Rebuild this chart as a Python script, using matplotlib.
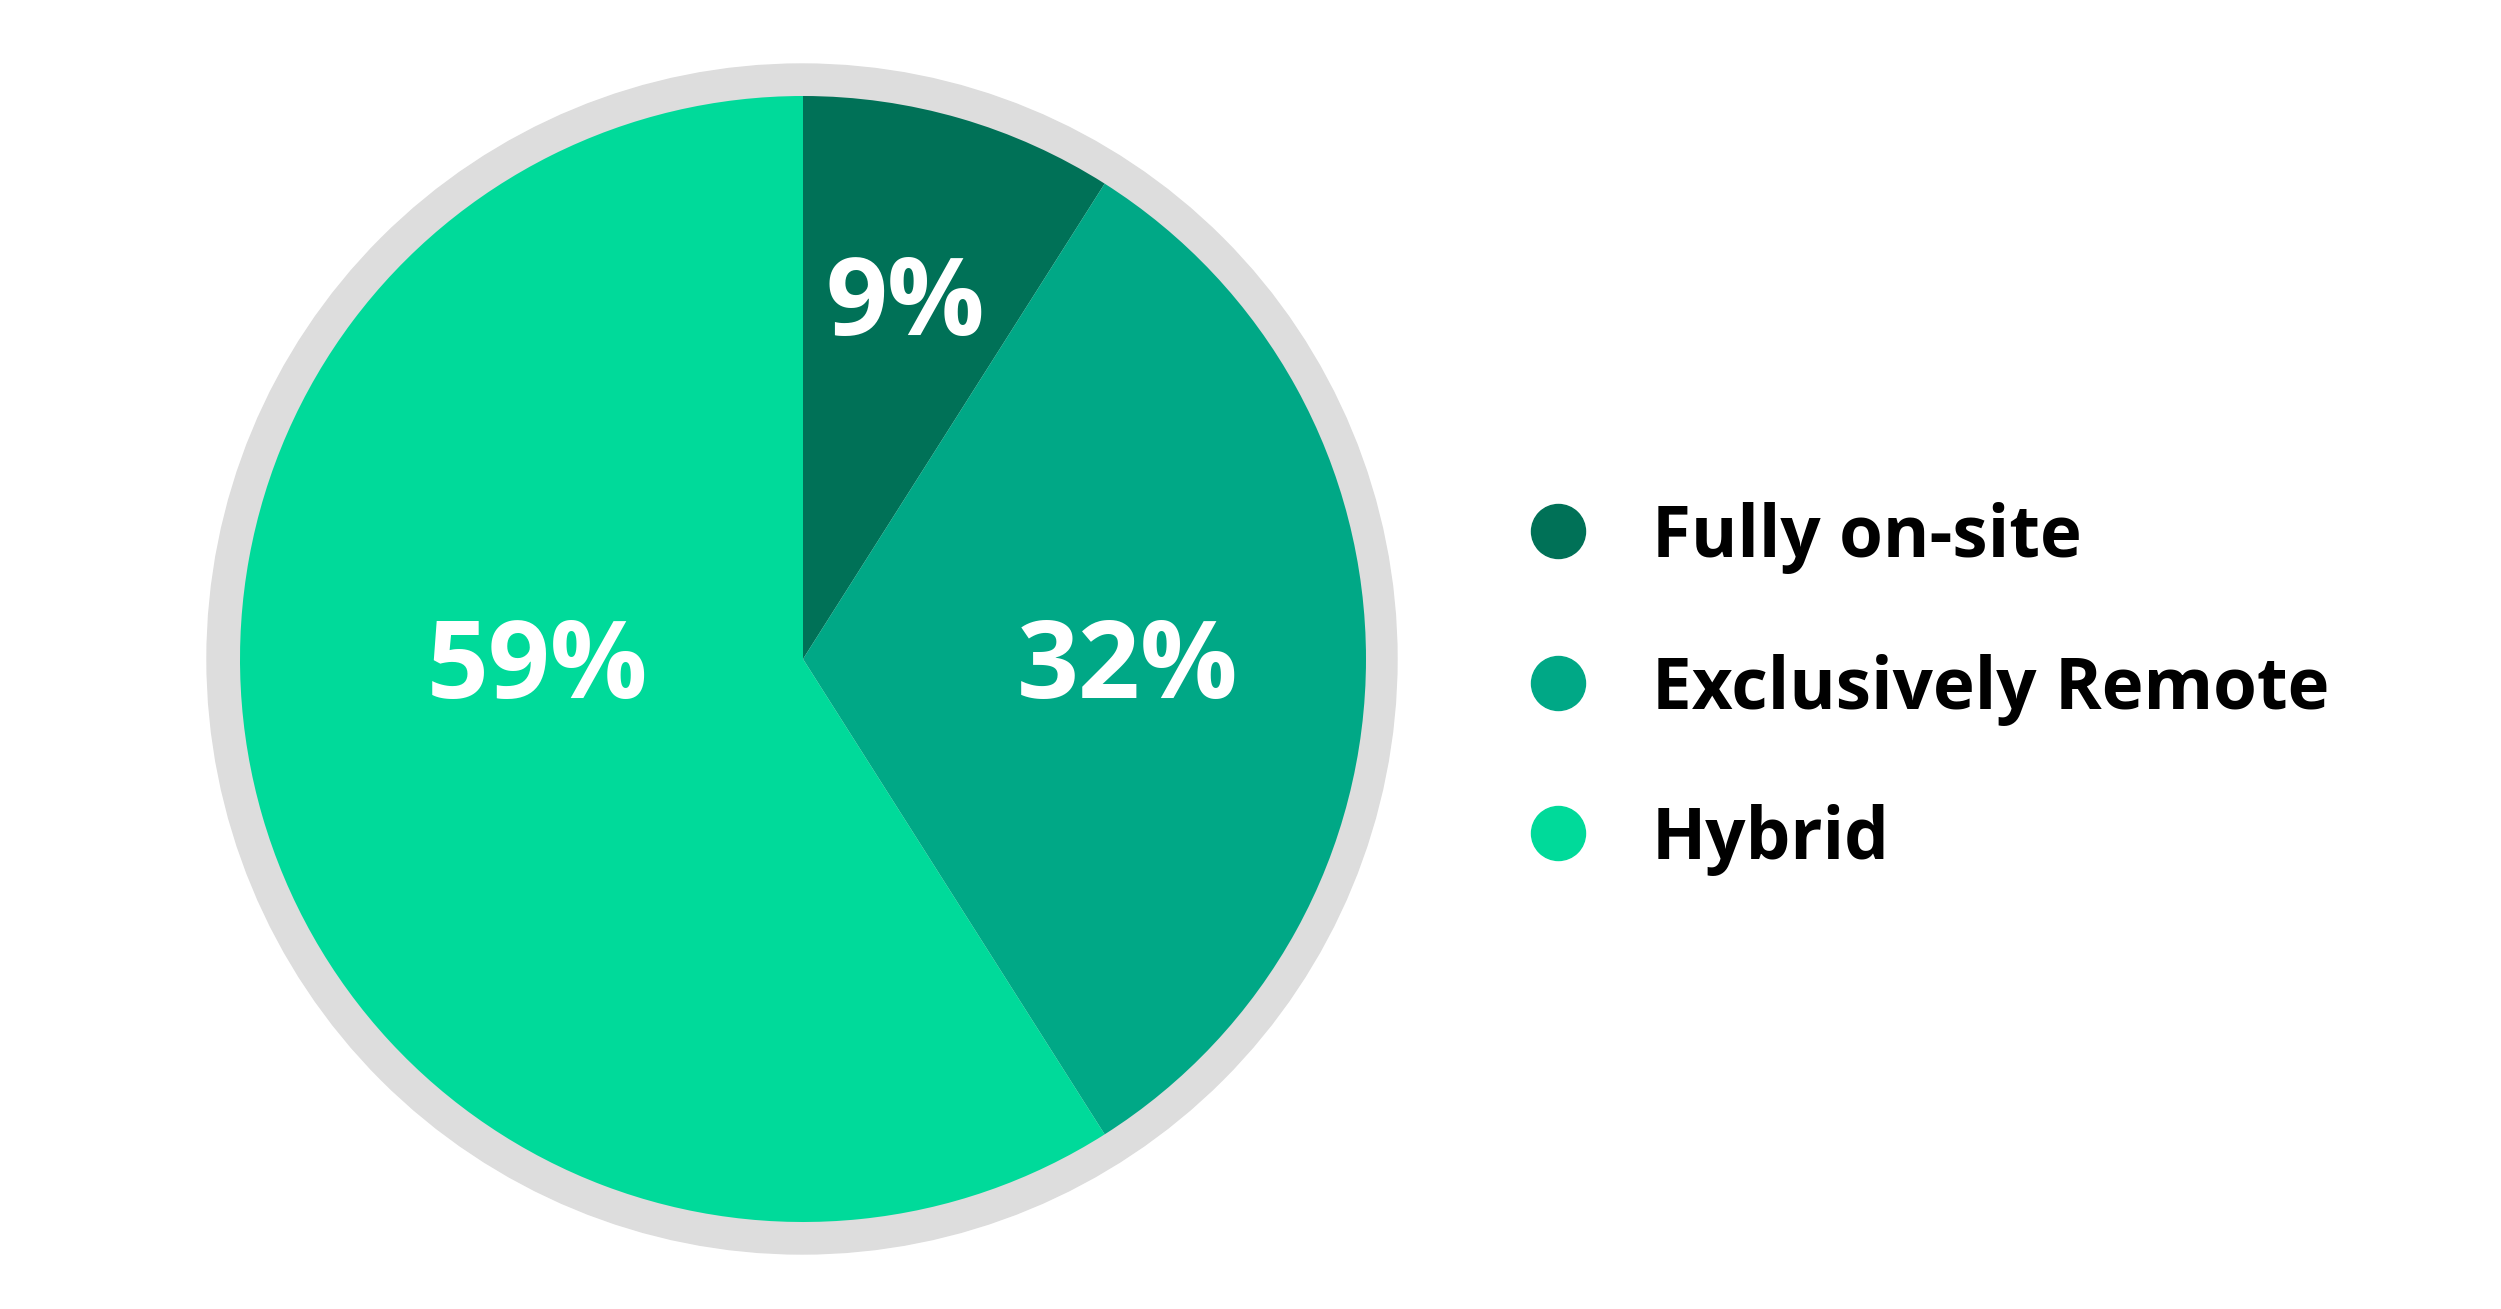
import numpy as np
import matplotlib.pyplot as plt
from matplotlib.patches import Circle

labels = ['Fully on-site', 'Exclusively Remote', 'Hybrid']
shares = [9, 32, 59]
colors = ['#007157', '#00A886', '#00DA9A']

W, H = 2501, 1309
fig = plt.figure(figsize=(W / 100, H / 100), dpi=100)
ax = fig.add_axes([0, 0, 1, 1])

cx, cy = 803, H - 659
r = 563

# grey ring behind the pie
ax.add_patch(Circle((cx - 1, cy), 595, color='#DDDDDD', zorder=0))

wedges, _ = ax.pie(shares, colors=colors, startangle=90, counterclock=False,
                   center=(cx, cy), radius=r, frame=True,
                   wedgeprops=dict(linewidth=0))
ax.set_xlim(0, W)
ax.set_ylim(0, H)
ax.set_aspect('equal')
ax.axis('off')

# label offsets from the pie centre (pixels)
offs = [(102, 363), (325, 0), (-265, 0)]
for s, (dx, dy) in zip(shares, offs):
    ax.text(cx + dx, cy + dy - 39, f'{s}%', color='white', fontsize=78,
            fontweight='bold', family='Open Sans', ha='center', va='baseline')

# legend
rows = [531, 683, 833]
for lab, col, ry in zip(labels, colors, rows):
    ax.scatter([1558], [H - ry], s=55 ** 2 * 0.5, color=col, zorder=3)
    ax.text(1652, H - ry - 26, lab, fontsize=51, fontweight='bold',
            family='Open Sans', color='black', ha='left', va='baseline')

fig.savefig('out.png', dpi=100)
